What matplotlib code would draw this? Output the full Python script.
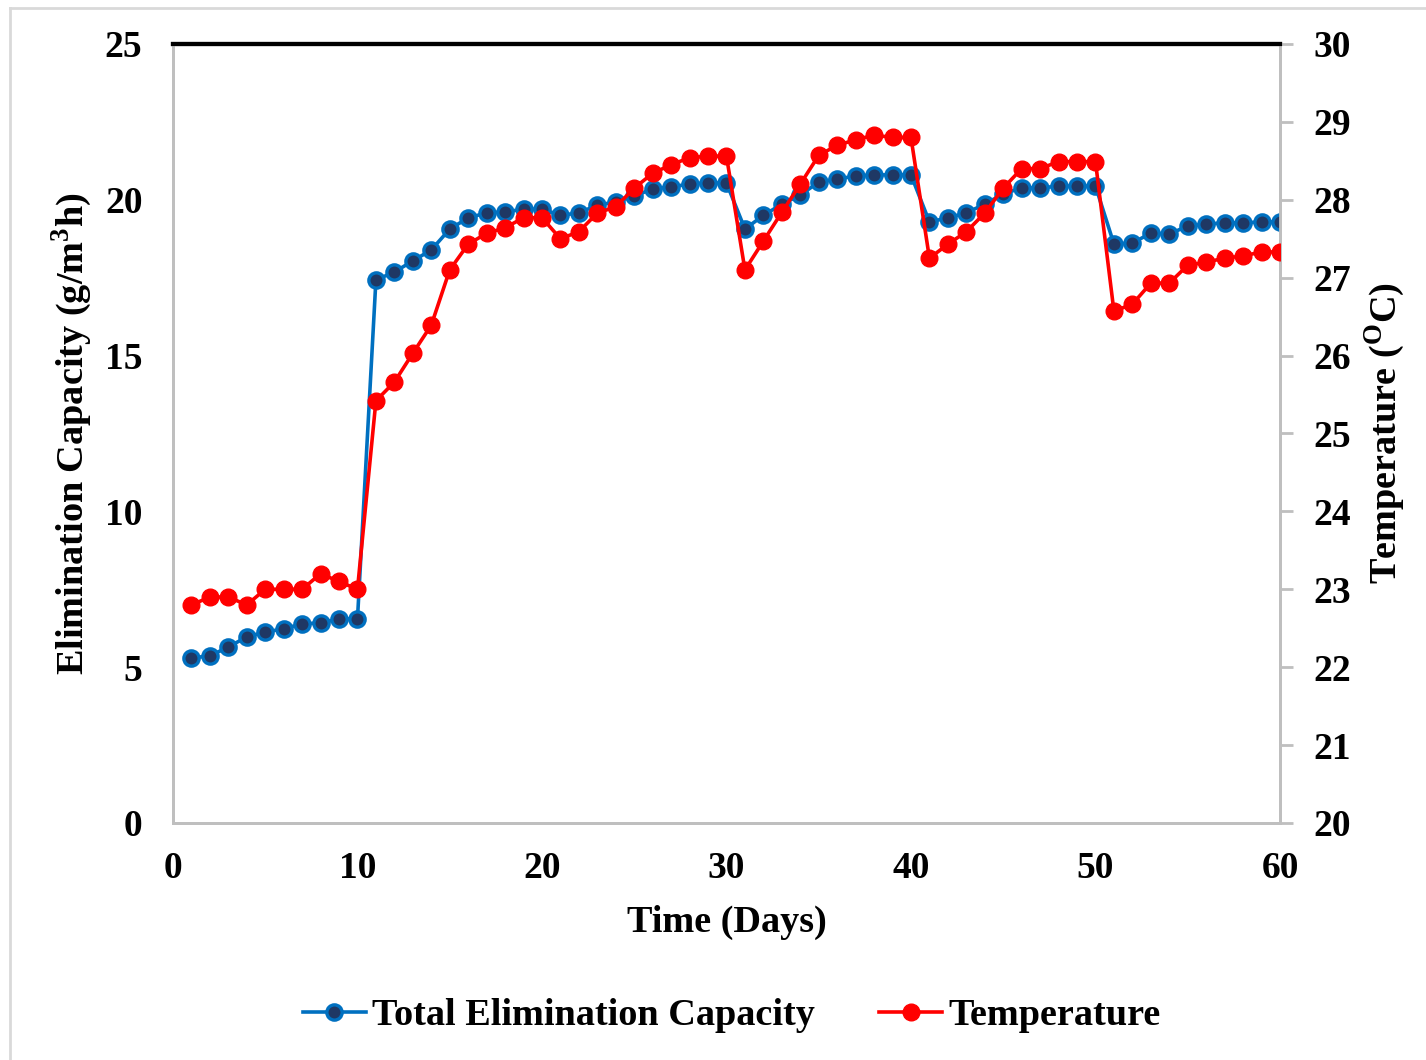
import matplotlib
matplotlib.use("Agg")
import matplotlib.pyplot as plt
from matplotlib.lines import Line2D

days = list(range(1, 61))

# total elimination capacity (g/m3h)
ec = [5.30, 5.36, 5.65, 5.97, 6.13, 6.23, 6.39, 6.42, 6.55, 6.55,
      17.43, 17.68, 18.04, 18.39, 19.06, 19.42, 19.58, 19.61, 19.70, 19.70,
      19.50, 19.58, 19.83, 19.93, 20.12, 20.35, 20.41, 20.51, 20.54, 20.54,
      19.06, 19.50, 19.86, 20.15, 20.57, 20.67, 20.76, 20.80, 20.80, 20.80,
      19.29, 19.42, 19.58, 19.86, 20.19, 20.38, 20.38, 20.44, 20.44, 20.44,
      18.58, 18.61, 18.93, 18.90, 19.16, 19.22, 19.26, 19.26, 19.29, 19.29]

# temperature (oC)
temp = [22.80, 22.90, 22.90, 22.80, 23.00, 23.00, 23.00, 23.20, 23.10, 23.00,
        25.42, 25.66, 26.03, 26.39, 27.10, 27.43, 27.57, 27.64, 27.77, 27.77,
        27.50, 27.59, 27.83, 27.91, 28.15, 28.34, 28.45, 28.54, 28.56, 28.56,
        27.10, 27.47, 27.84, 28.20, 28.57, 28.70, 28.77, 28.83, 28.80, 28.80,
        27.25, 27.43, 27.59, 27.83, 28.15, 28.40, 28.40, 28.49, 28.49, 28.49,
        26.57, 26.66, 26.93, 26.93, 27.16, 27.20, 27.25, 27.28, 27.33, 27.33]

plt.rcParams['font.family'] = ['Liberation Serif', 'DejaVu Serif']
plt.rcParams['font.weight'] = 'bold'
plt.rcParams['mathtext.fontset'] = 'custom'
plt.rcParams['mathtext.rm'] = 'Liberation Serif:bold'
plt.rcParams['mathtext.bf'] = 'Liberation Serif:bold'

fig = plt.figure(figsize=(14.26, 10.6), dpi=100)
ax = fig.add_axes([0.1213, 0.2236, 0.7763, 0.7349])
ax2 = ax.twinx()

gris = '#bfbfbf'
blue = '#0070c0'
navy = '#1f3864'

ax.plot(days, ec, color=blue, lw=2.6, marker='o', ms=11,
        mfc=navy, mec=blue, mew=2.4, zorder=3)
ax2.plot(days, temp, color='#ff0000', lw=2.6, marker='o', ms=12,
         mfc='#ff0000', mec='#ff0000', zorder=3)

ax.set_xlim(0, 60)
ax.set_ylim(0, 25)
ax2.set_ylim(20, 30)
ax.set_xticks(range(0, 61, 10))
ax.set_yticks(range(0, 26, 5))
ax2.set_yticks(range(20, 31))

for a in (ax, ax2):
    for s in a.spines.values():
        s.set_color(gris)
        s.set_linewidth(2)
    a.spines['top'].set_color('black')
    a.spines['top'].set_linewidth(3)

ax.tick_params(axis='x', length=0, labelsize=27, pad=20)
ax.tick_params(axis='y', length=0, labelsize=27, pad=22)
ax2.tick_params(axis='y', length=9, width=2, color=gris, labelsize=27, pad=15)

ax.set_xlabel('Time (Days)', fontsize=27.5, fontweight='bold', labelpad=14)
ax.set_ylabel('Elimination Capacity (g/m$^{\\mathbf{3}}$h)', fontsize=27.5,
              fontweight='bold', labelpad=8)
ax2.set_ylabel('Temperature ($^{\\mathbf{O}}$C)', fontsize=27.5,
               fontweight='bold', labelpad=8)

handles = [Line2D([], [], color=blue, lw=2.6, marker='o', ms=11, mfc=navy,
                  mec=blue, mew=2.4),
           Line2D([], [], color='#ff0000', lw=2.6, marker='o', ms=12,
                  mfc='#ff0000', mec='#ff0000')]
fig.legend(handles, ['Total Elimination Capacity', 'Temperature'],
           loc='center', bbox_to_anchor=(0.513, 0.042), ncol=2, frameon=False,
           fontsize=27.5, handlelength=1.65, handletextpad=0.15,
           columnspacing=1.7)

# light frame around the chart
fig.add_artist(Line2D([0.007, 0.007], [0.0, 0.992], color='#d9d9d9', lw=2,
                      transform=fig.transFigure))
fig.add_artist(Line2D([0.007, 1.0], [0.992, 0.992], color='#d9d9d9', lw=2,
                      transform=fig.transFigure))

fig.savefig('out.png', dpi=100)
